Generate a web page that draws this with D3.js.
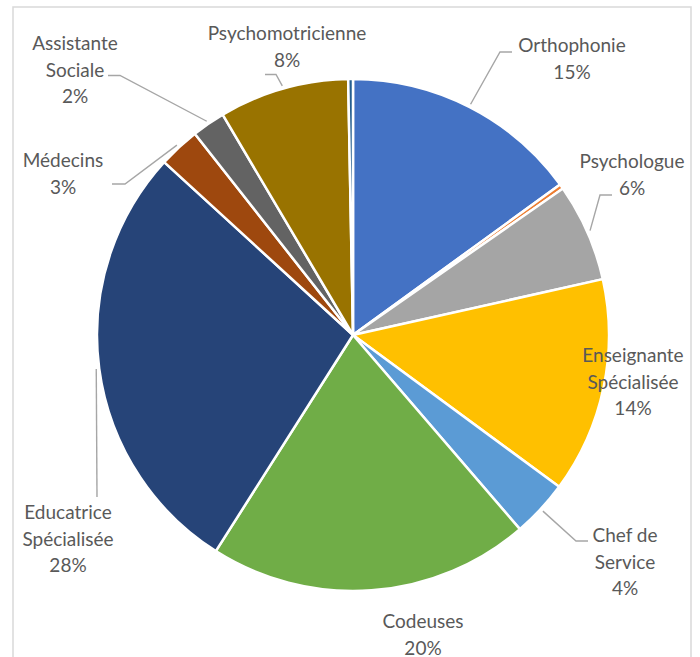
<!DOCTYPE html>
<html>
<head>
<meta charset="utf-8">
<script src="https://cdn.jsdelivr.net/npm/d3@7/dist/d3.min.js"></script>
<style>
  html, body { margin: 0; padding: 0; background: #fff; }
  svg { display: block; }
</style>
</head>
<body>
<svg id="chart" width="700" height="657"></svg>
<script>
// ---- data ----
const categories = ["Orthophonie", "Autre", "Psychologue", "Enseignante Spécialisée", "Chef de Service",
                    "Codeuses", "Educatrice Spécialisée", "Médecins", "Assistante Sociale", "Psychomotricienne", "Divers"];
const values = [15.0, 0.3, 6.2, 13.6, 3.6, 20.3, 27.8, 2.6, 2.1, 8.2, 0.3];
const colors = ["#4472C4", "#ED7D31", "#A5A5A5", "#FFC000", "#5B9BD5", "#70AD47",
                "#264478", "#9E480E", "#636363", "#997300", "#255E91"];
const showLabel = [true, false, true, true, true, true, true, true, true, true, false];

// ---- layout (label placement, not data) ----
const labelLayout = {
  "Orthophonie":            { x: 572, y: 52,  lines: ["Orthophonie"], leader: [[500, 52], [512, 52]] },
  "Psychologue":            { x: 632, y: 168, lines: ["Psychologue"], leader: [[600, 195], [612, 195]] },
  "Enseignante Spécialisée":{ x: 633, y: 362, lines: ["Enseignante", "Spécialisée"], leader: null },
  "Chef de Service":        { x: 625, y: 542, lines: ["Chef de", "Service"], leader: [[576, 541], [588, 541]] },
  "Codeuses":               { x: 423, y: 628, lines: ["Codeuses"], leader: null },
  "Educatrice Spécialisée": { x: 68,  y: 519, lines: ["Educatrice", "Spécialisée"], leader: [[97, 497]] },
  "Médecins":               { x: 63,  y: 167, lines: ["Médecins"], leader: [[125, 184], [112, 184]] },
  "Assistante Sociale":     { x: 75,  y: 50,  lines: ["Assistante", "Sociale"], leader: [[120, 75.5], [108, 75.5]] },
  "Psychomotricienne":      { x: 287, y: 40,  lines: ["Psychomotricienne"], leader: [[276, 74.5], [265, 74.5]] }
};

const cx = 353, cy = 335, R = 256;
const lineH = 26.5;

const svg = d3.select("#chart");

// chart border
svg.append("rect")
  .attr("x", 13).attr("y", 7).attr("width", 678).attr("height", 670)
  .attr("fill", "#fff").attr("stroke", "#D9D9D9").attr("stroke-width", 1.5);

const data = categories.map((c, i) => ({ name: c, value: values[i], color: colors[i], show: showLabel[i] }));
const total = d3.sum(values);

const pie = d3.pie().sort(null).value(d => d.value);
const arcs = pie(data);
const arc = d3.arc().innerRadius(0).outerRadius(R);

const g = svg.append("g").attr("transform", `translate(${cx},${cy})`);

g.selectAll("path.slice")
  .data(arcs)
  .join("path")
  .attr("class", "slice")
  .attr("d", arc)
  .attr("fill", d => d.data.color)
  .attr("stroke", "#fff")
  .attr("stroke-width", 2.5)
  .attr("stroke-linejoin", "round");

// leader lines
const edgeArc = d3.arc().innerRadius(R + 3).outerRadius(R + 3);
const lineGen = d3.line();
arcs.forEach(a => {
  const L = labelLayout[a.data.name];
  if (!a.data.show || !L || !L.leader) return;
  const [sx, sy] = edgeArc.centroid(a);
  const pts = [[sx + cx, sy + cy]].concat(L.leader);
  svg.append("path")
    .attr("d", lineGen(pts))
    .attr("fill", "none")
    .attr("stroke", "#A6A6A6")
    .attr("stroke-width", 1.4);
});

// labels
arcs.forEach(a => {
  const L = labelLayout[a.data.name];
  if (!a.data.show || !L) return;
  const pct = Math.round(a.data.value / total * 100) + "%";
  const lines = L.lines.concat([pct]);
  const t = svg.append("text")
    .attr("text-anchor", "middle")
    .attr("font-family", "Lato, 'Open Sans', sans-serif")
    .attr("font-size", 19)
    .attr("fill", "#595959");
  lines.forEach((s, i) => {
    t.append("tspan").attr("x", L.x).attr("y", L.y + i * lineH).text(s);
  });
});
</script>
</body>
</html>
